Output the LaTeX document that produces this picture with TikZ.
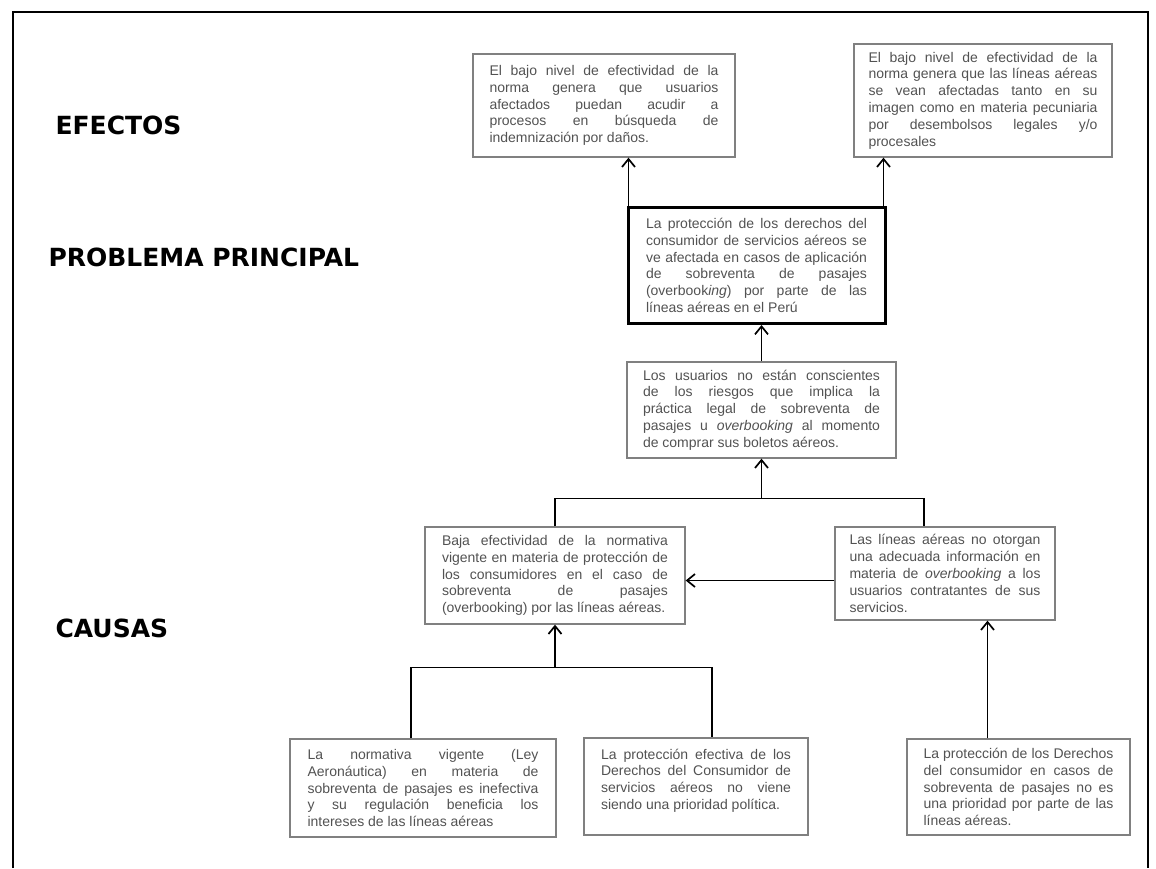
\documentclass[tikz,border=0pt]{standalone}
\usepackage{fontspec}
\usepackage{tikz}
\usetikzlibrary{arrows.meta}
\newfontfamily\boxfont{Liberation Sans}
\newfontfamily\levelfont{DejaVu Sans}
\tikzset{
  causebox/.style={draw=black!50, line width=1.3pt, inner sep=3pt, text=black!68,
                   font=\boxfont\fontsize{14}{16.8}\selectfont, align=justify},
  mainbox/.style={causebox, draw=black, line width=3pt},
  level/.style={anchor=west, font=\levelfont\bfseries\fontsize{25}{28}\selectfont},
  link/.style={line width=1.7pt},
  fwd/.style={link, -{Straight Barb[length=8pt, width=13pt, line width=1.7pt]}},
}
\begin{document}
\begin{tikzpicture}[x=1pt, y=-1pt]
  \useasboundingbox (0,0) rectangle (1156,868);
  \draw[line width=2pt] (13,868) -- (13,12) -- (1148,12) -- (1148,868);

  % levels
  \node[level] (lvlefectos) at (52,125) {EFECTOS};
  \node[level] (lvlproblema) at (45,257) {PROBLEMA PRINCIPAL};
  \node[level] (lvlcausas) at (52,628) {CAUSAS};

  % effects
  \node[causebox, minimum width=262, minimum height=103, text width=229] (e1) at (604,105.5)
    {El bajo nivel de efectividad de la\linebreak norma genera que usuarios\linebreak afectados puedan acudir a\linebreak procesos en búsqueda de\linebreak indemnización por daños.};
  \node[causebox, minimum width=258, minimum height=113, text width=229] (e2) at (983,100.5)
    {El bajo nivel de efectividad de la\linebreak norma genera que las líneas aéreas\linebreak se vean afectadas tanto en su\linebreak imagen como en materia pecuniaria\linebreak por desembolsos legales y/o\linebreak procesales};

  % main problem
  \node[mainbox, minimum width=257, minimum height=116, text width=221] (main) at (756.5,265.5)
    {La protección de los derechos del\linebreak consumidor de servicios aéreos se\linebreak ve afectada en casos de aplicación\linebreak de sobreventa de pasajes\linebreak (overbook\textit{ing}) por parte de las\linebreak líneas aéreas en el Perú};

  % causes
  \node[causebox, minimum width=269, minimum height=96, text width=237] (m) at (761.5,410)
    {Los usuarios no están conscientes\linebreak de los riesgos que implica la\linebreak práctica legal de sobreventa de\linebreak pasajes u \textit{overbooking} al momento\linebreak de comprar sus boletos aéreos.};
  \node[causebox, minimum width=260, minimum height=97, text width=226] (c1) at (555,575.5)
    {Baja efectividad de la normativa\linebreak vigente en materia de protección de\linebreak los consumidores en el caso de\linebreak sobreventa de pasajes\linebreak (overbooking) por las líneas aéreas.};
  \node[causebox, minimum width=220, minimum height=93, text width=191] (c2) at (945,573.5)
    {Las líneas aéreas no otorgan\linebreak una adecuada información en\linebreak materia de \textit{overbooking} a los\linebreak usuarios contratantes de sus\linebreak servicios.};
  \node[causebox, minimum width=266, minimum height=98, text width=231] (b1) at (423,788)
    {La normativa vigente (Ley\linebreak Aeronáutica) en materia de\linebreak sobreventa de pasajes es inefectiva\linebreak y su regulación beneficia los\linebreak intereses de las líneas aéreas};
  \node[causebox, minimum width=224, minimum height=97, text width=190] (b2) at (696,786.5)
    {La protección efectiva de los\linebreak Derechos del Consumidor de\linebreak servicios aéreos no viene\linebreak siendo una prioridad política.\par\vspace{12pt}};
  \node[causebox, minimum width=223, minimum height=96, text width=190] (b3) at (1018.5,787)
    {La protección de los Derechos\linebreak del consumidor en casos de\linebreak sobreventa de pasajes no es\linebreak una prioridad por parte de las\linebreak líneas aéreas.};

  % connectors
  \draw[fwd] ([xshift=2pt]main.north west) -- ([xshift=2pt]main.north west |- e1.south);
  \draw[fwd] ([xshift=-3pt]main.north east) -- ([xshift=-3pt]main.north east |- e2.south);
  \draw[fwd] (m.north) -- (m.north |- main.south);

  \draw[link] (c1.north) -- ++(0,-28) coordinate (jc) -| ([xshift=-21pt]c2.north);
  \draw[fwd] (m.south |- jc) -- (m.south);
  \draw[fwd] ([yshift=-7pt]c2.west) -- ([yshift=-7pt]c2.west -| c1.east);

  \draw[link] ([xshift=-12pt]b1.north) -- ++(0,-71) coordinate (jb) -| ([xshift=16pt]b2.north);
  \draw[fwd] (jb -| c1.south) -- (c1.south);
  \draw[fwd] ([xshift=-31pt]b3.north) -- ([xshift=-31pt]b3.north |- c2.south);
\end{tikzpicture}
\end{document}
